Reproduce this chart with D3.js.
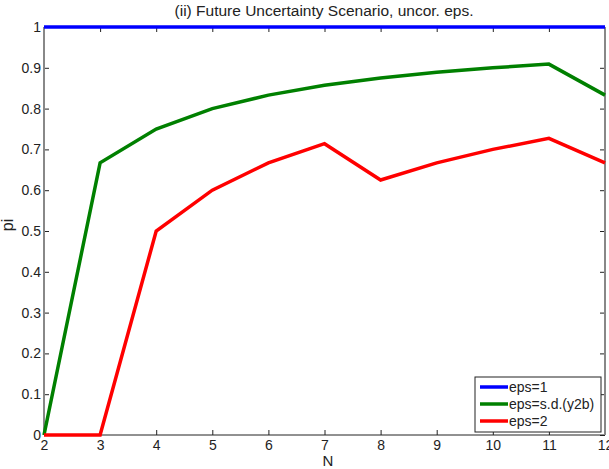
<!DOCTYPE html>
<html>
<head>
<meta charset="utf-8">
<script src="https://cdn.jsdelivr.net/npm/d3@7"></script>
<style>
  body { margin: 0; background: #fff; }
  text { font-family: "Liberation Sans", Arial, sans-serif; fill: #222; }
</style>
</head>
<body>
<div id="chart-area"></div>
<script>
var nValues = [2, 3, 4, 5, 6, 7, 8, 9, 10, 11, 12];
var eps1 = [1, 1, 1, 1, 1, 1, 1, 1, 1, 1, 1];
var epsSd = [0, 0.667, 0.75, 0.8, 0.833, 0.857, 0.875, 0.889, 0.9, 0.909, 0.833];
var eps2 = [0, 0, 0.5, 0.6, 0.667, 0.714, 0.625, 0.667, 0.7, 0.727, 0.667];
var seriesNames = ["eps=1", "eps=s.d.(y2b)", "eps=2"];
var seriesColors = ["#0000ff", "#008000", "#ff0000"];
var yTicks = [0, 0.1, 0.2, 0.3, 0.4, 0.5, 0.6, 0.7, 0.8, 0.9, 1];

var margin = { top: 27, right: 4, bottom: 34, left: 44 },
    width = 609 - margin.left - margin.right,
    height = 469 - margin.top - margin.bottom;

var svg = d3.select("#chart-area")
    .append("svg")
    .attr("width", 609)
    .attr("height", 469);

var g = svg.append("g")
    .attr("transform", "translate(" + margin.left + "," + margin.top + ")");

var x = d3.scaleLinear().domain([2, 12]).range([0, width]);
var y = d3.scaleLinear().domain([0, 1]).range([height, 0]);

// ticks on all four sides, pointing inward
var xBottom = d3.axisBottom(x).tickValues(nValues).tickSize(-5).tickPadding(5).tickFormat(d3.format("d"));
var xTop = d3.axisTop(x).tickValues(nValues).tickSize(-5).tickFormat("");
var yLeft = d3.axisLeft(y).tickValues(yTicks).tickSize(-5).tickPadding(3).tickFormat(d => d === 0 || d === 1 ? d : d3.format(".1f")(d));
var yRight = d3.axisRight(y).tickValues(yTicks).tickSize(-5).tickFormat("");

function styleAxis(sel) {
    sel.select(".domain").remove();
    sel.selectAll(".tick line").attr("stroke", "#222");
    sel.selectAll("text").style("font-size", "14px").attr("fill", "#222");
}

g.append("g").attr("transform", "translate(0," + height + ")").call(xBottom).call(styleAxis);
g.append("g").call(xTop).call(styleAxis);
g.append("g").call(yLeft).call(styleAxis);
g.append("g").attr("transform", "translate(" + width + ",0)").call(yRight).call(styleAxis);

// box
g.append("line").attr("x1", 0).attr("x2", width).attr("y1", height).attr("y2", height)
    .attr("stroke", "#222").attr("stroke-width", 1);
g.append("line").attr("x1", 0).attr("x2", width).attr("y1", 0).attr("y2", 0)
    .attr("stroke", "#222").attr("stroke-width", 1);
g.append("line").attr("x1", 0).attr("x2", 0).attr("y1", 0).attr("y2", height)
    .attr("stroke", "#888").attr("stroke-width", 2);
g.append("line").attr("x1", width).attr("x2", width).attr("y1", 0).attr("y2", height)
    .attr("stroke", "#888").attr("stroke-width", 2);

var line = d3.line()
    .x((d, i) => x(nValues[i]))
    .y(d => y(d));

var allSeries = [eps1, epsSd, eps2];
allSeries.forEach(function(s, k) {
    g.append("path")
        .datum(s)
        .attr("fill", "none")
        .attr("stroke", seriesColors[k])
        .attr("stroke-width", 3.5)
        .attr("stroke-linejoin", "miter")
        .attr("d", line);
});

// title and labels
svg.append("text")
    .attr("x", 324)
    .attr("y", 16)
    .attr("text-anchor", "middle")
    .style("font-size", "15.5px")
    .text("(ii) Future Uncertainty Scenario, uncor. eps.");

svg.append("text")
    .attr("x", 328)
    .attr("y", 466)
    .attr("text-anchor", "middle")
    .style("font-size", "15px")
    .text("N");

svg.append("text")
    .attr("transform", "translate(13,225) rotate(-90)")
    .attr("text-anchor", "middle")
    .style("font-size", "16px")
    .text("pi");

// legend
var legend = svg.append("g").attr("transform", "translate(475,377)");
legend.append("rect")
    .attr("width", 126).attr("height", 55)
    .attr("fill", "#fff").attr("stroke", "#222").attr("stroke-width", 1);
seriesNames.forEach(function(name, k) {
    var ly = 10 + k * 17;
    legend.append("line")
        .attr("x1", 5).attr("x2", 33).attr("y1", ly).attr("y2", ly)
        .attr("stroke", seriesColors[k]).attr("stroke-width", 3.5);
    legend.append("text")
        .attr("x", 34).attr("y", ly + 5)
        .style("font-size", "14px")
        .text(name);
});
</script>
</body>
</html>
